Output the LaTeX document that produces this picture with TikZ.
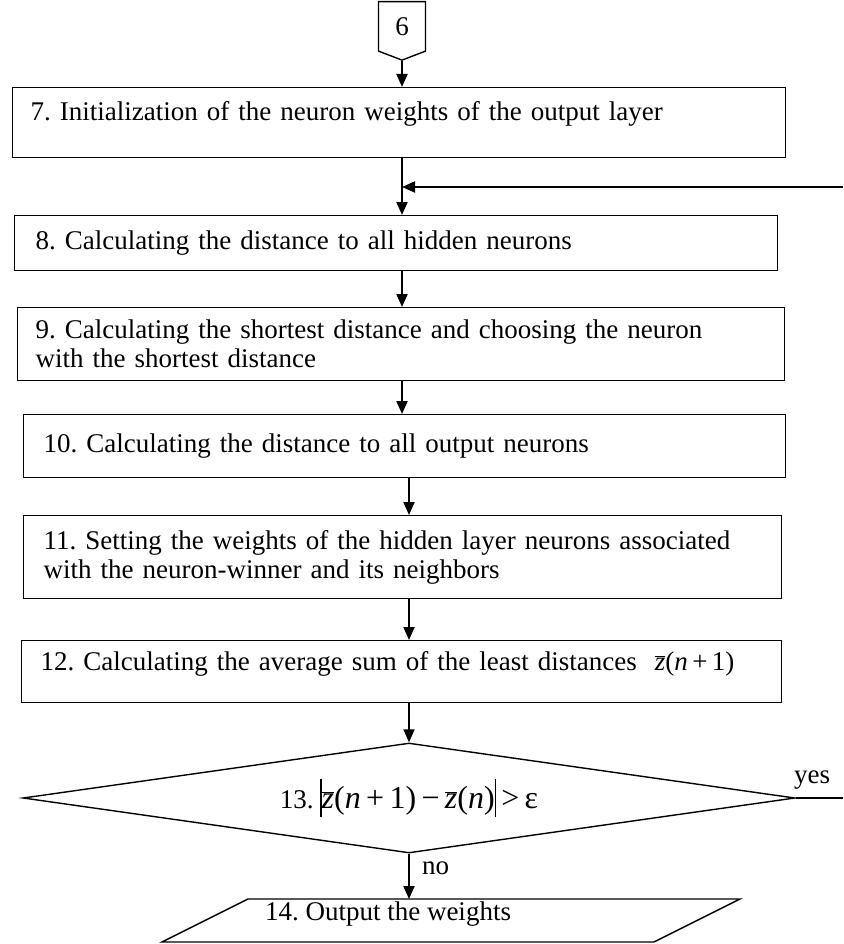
\documentclass[tikz,border=0pt]{standalone}
\usepackage{fontspec}
\setmainfont{Liberation Serif}
\frenchspacing
\usetikzlibrary{shapes.geometric}
\usetikzlibrary{shapes.symbols}
\usetikzlibrary{arrows.meta}

\begin{document}
\begin{tikzpicture}[x=1pt,y=-1pt,
  plain/.style={line width=1.4pt},
  flow/.style={line width=2pt,-{Triangle[length=13pt,width=11pt]}},
  stepbox/.style={draw,plain,rectangle,anchor=north west,align=left,inner sep=0pt,font=\fontsize{27}{29}\selectfont},
  label/.style={inner sep=0pt,font=\fontsize{27}{29}\selectfont}]
\useasboundingbox (0,0) rectangle (843,944);
\node[draw,plain,signal,signal to=south,signal pointer angle=138,minimum width=47pt,minimum height=52pt,inner sep=0pt,anchor=north,font=\fontsize{27}{29}\selectfont] (p6) at (402,1) {6};
\node[stepbox,minimum width=773pt,minimum height=70pt,text width=737pt,text depth=24pt] (b7) at (12,87) {7. Initialization of the neuron weights of the output layer};
\node[stepbox,minimum width=763pt,minimum height=55pt,text width=721pt] (b8) at (14,215) {8. Calculating the distance to all hidden neurons};
\node[stepbox,minimum width=767pt,minimum height=73pt,text width=731pt] (b9) at (17,307) {9. Calculating the shortest distance and choosing the neuron\\with the shortest distance};
\node[stepbox,minimum width=762pt,minimum height=63pt,text width=722pt] (b10) at (23,414) {10. Calculating the distance to all output neurons};
\node[stepbox,minimum width=758pt,minimum height=83pt,text width=718pt] (b11) at (23,515) {11. Setting the weights of the hidden layer neurons associated\\with the neuron-winner and its neighbors};
\node[stepbox,minimum width=760pt,minimum height=62pt,text width=722pt,text depth=22pt] (b12) at (21,640) {12. Calculating the average sum of the least distances\ \ $\overline{\textit{z}}$(\textit{n}\,+\,1)};
\node[draw,plain,diamond,aspect=7,minimum width=772pt,minimum height=110pt,inner sep=0pt,font=\fontsize{27}{29}\selectfont] (d13) at (409,798) {13.\ {\fontsize{32}{36}\selectfont\rule[-9pt]{1.3pt}{38pt}$\overline{\textit{z}}$(\textit{n}\,+\,1)\,−\,$\overline{\textit{z}}$(\textit{n})\rule[-9pt]{1.3pt}{38pt}\,>\,ε}};
\node[label] (o14) at (388,914) {14. Output the weights};
\draw[plain] (162,942) -- (248,899) -- (740,899) -- (654,942) -- cycle;
\coordinate (o14top) at (409,899);
\node[label] (yes) at (812,780) {yes};
\node[label,anchor=west] (no) at (422,868) {no};
\coordinate (yesend) at (843,798);
\coordinate (loop) at (843,187);
% arrows down the chart
\draw[flow] (p6.south) -- (b7.north -| p6.south);
\draw[flow] (b7.south -| p6.south) -- (b8.north -| p6.south);
\draw[flow] (loop) -- (loop -| p6.south);
\draw[flow] (b8.south -| p6.south) -- (b9.north -| p6.south);
\draw[flow] (b9.south -| p6.south) -- (b10.north -| p6.south);
\draw[flow] (b10.south -| d13.north) -- (b11.north -| d13.north);
\draw[flow] (b11.south -| d13.north) -- (b12.north -| d13.north);
\draw[flow] (b12.south -| d13.north) -- (d13.north);
\draw[flow] (d13.south) -- (o14top);
\draw[plain] (d13.east) -- (yesend);
\end{tikzpicture}
\end{document}
